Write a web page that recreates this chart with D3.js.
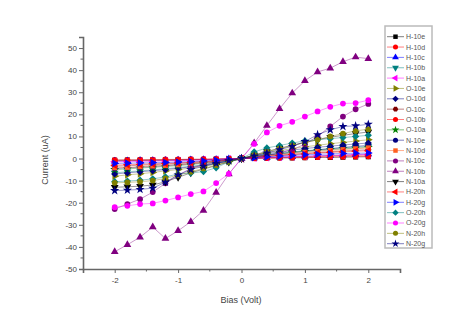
<!DOCTYPE html>
<html>
<head>
<meta charset="utf-8">
<script src="https://cdn.jsdelivr.net/npm/d3@7"></script>
<style>
  body { margin: 0; background: #fff; }
  text { font-family: Arial, "Liberation Sans", sans-serif; }
</style>
</head>
<body>
<svg id="viz"></svg>
<script>
// ----------------------- DATA
const bias = [-2, -1.8, -1.6, -1.4, -1.2, -1, -0.8, -0.6, -0.4, -0.2, 0, 0.2, 0.4, 0.6, 0.8, 1, 1.2, 1.4, 1.6, 1.8, 2];

const seriesNames = ['H-10e', 'H-10d', 'H-10c', 'H-10b', 'H-10a', 'O-10e', 'O-10d', 'O-10c', 'O-10b', 'O-10a',
  'N-10e', 'N-10d', 'N-10c', 'N-10b', 'N-10a', 'H-20h', 'H-20g', 'O-20h', 'O-20g', 'N-20h', 'N-20g'];

const h10e = [-0.8, -0.7, -0.7, -0.6, -0.6, -0.5, -0.4, -0.4, -0.3, -0.1, 0, 0.1, 0.2, 0.3, 0.3, 0.4, 0.5, 0.5, 0.6, 0.7, 0.8];
const h10d = [-0.6, -0.6, -0.5, -0.5, -0.4, -0.4, -0.3, -0.3, -0.2, -0.1, 0, 0.1, 0.2, 0.3, 0.4, 0.5, 0.6, 0.7, 0.8, 0.9, 1.0];
const h10c = [-1.2, -1.1, -1.0, -1.0, -0.9, -0.8, -0.7, -0.5, -0.4, -0.2, 0, 0.2, 0.4, 0.6, 0.8, 1.0, 1.2, 1.4, 1.6, 1.8, 2.0];
const h10b = [-6.5, -6.0, -5.6, -5.1, -4.6, -4.1, -3.5, -2.9, -2.1, -1.1, 0, 0.9, 1.7, 2.4, 3.0, 3.5, 4.0, 4.5, 4.9, 5.2, 5.5];
const h10a = [-1.5, -1.4, -1.3, -1.2, -1.1, -1.0, -0.8, -0.6, -0.4, -0.2, 0, 0.2, 0.4, 0.6, 0.8, 1.0, 1.2, 1.3, 1.5, 1.7, 1.8];
const o10e = [-8.0, -7.4, -6.9, -6.3, -5.6, -5.0, -4.3, -3.5, -2.6, -1.4, 0, 1.4, 2.6, 3.6, 4.5, 5.3, 6.0, 6.7, 7.3, 7.9, 8.5];
const o10d = [-7.0, -6.5, -6.0, -5.5, -5.0, -4.4, -3.8, -3.1, -2.2, -1.2, 0, 1.1, 2.2, 3.0, 3.8, 4.5, 5.1, 5.6, 6.1, 6.6, 7.0];
const o10c = [-3.5, -3.3, -3.0, -2.8, -2.5, -2.2, -1.9, -1.5, -1.1, -0.6, 0, 0.6, 1.1, 1.5, 1.9, 2.3, 2.7, 3.0, 3.4, 3.7, 4.0];
const o10b = [-1.0, -0.9, -0.9, -0.8, -0.7, -0.6, -0.5, -0.4, -0.3, -0.2, 0, 0.2, 0.3, 0.5, 0.6, 0.8, 0.9, 1.1, 1.2, 1.4, 1.5];
const o10a = [-5.0, -4.7, -4.3, -4.0, -3.6, -3.2, -2.7, -2.2, -1.6, -0.9, 0, 0.9, 1.6, 2.2, 2.7, 3.2, 3.6, 4.0, 4.4, 4.7, 5.0];
const n10e = [-4.5, -4.2, -3.9, -3.6, -3.2, -2.8, -2.4, -1.9, -1.4, -0.7, 0, 0.8, 1.5, 2.1, 2.7, 3.3, 3.9, 4.4, 5.0, 5.5, 6.0];
const n10d = [-4.2, -4.0, -3.7, -3.4, -3.1, -2.8, -2.4, -1.9, -1.3, -0.7, 0, 0.7, 1.3, 1.8, 2.3, 2.8, 3.2, 3.6, 4.0, 4.4, 4.8];
const n10c = [-22.9, -20.6, -18.4, -15.2, -11.2, -7.5, -4.5, -2.8, -1.6, -0.6, 0, 0.6, 1.5, 2.5, 4.0, 6.5, 10.0, 14.5, 19.0, 22.3, 24.7];
const n10b = [-42.2, -39, -35.6, -31, -36.2, -32.7, -28.6, -23.5, -15.4, -7, 0, 7, 14.9, 22.5, 29.6, 35.2, 39.2, 40.9, 43.8, 45.9, 45.2];
const n10a = [-13.0, -12.8, -12.5, -12.0, -10.5, -8.5, -6.5, -4.8, -3.2, -1.6, 0, 1.6, 3.2, 4.6, 6.0, 7.3, 8.5, 9.6, 10.5, 11.3, 12.0];
const h20h = [-3.0, -2.8, -2.6, -2.4, -2.2, -2.0, -1.7, -1.4, -1.0, -0.5, 0, 0.5, 1.0, 1.4, 1.8, 2.1, 2.5, 2.8, 3.0, 3.3, 3.5];
const h20g = [-2.2, -2.1, -2.0, -1.9, -1.8, -1.6, -1.4, -1.1, -0.8, -0.4, 0, 0.4, 0.8, 1.1, 1.4, 1.7, 1.9, 2.1, 2.3, 2.4, 2.5];
const o20h = [-10.5, -10.2, -9.8, -9.2, -8.3, -7.0, -6.6, -5.9, -4.2, -1.5, 0, 3.0, 4.8, 5.9, 7.0, 8.0, 8.5, 9.0, 9.5, 10.0, 10.5];
const o20g = [-22, -21.4, -20.6, -20.3, -19, -17.6, -16.1, -14.9, -11.1, -6.9, 0, 6.6, 11.8, 14.8, 16.6, 19, 21.3, 23.4, 24.9, 25.1, 26.4];
const n20h = [-11, -10.8, -10.5, -10.0, -9.0, -7.5, -6.0, -4.5, -3.0, -1.5, 0, 1.5, 3.0, 4.5, 5.8, 7.2, 8.5, 10.0, 11.3, 12.5, 13.3];
const n20g = [-14.5, -14.3, -14.0, -13.4, -10.7, -7.4, -5.0, -3.5, -2.2, -1.0, 0, 1.2, 2.5, 4.0, 5.5, 7.7, 10.8, 13.0, 14.5, 14.8, 15.5];

const seriesValues = [h10e, h10d, h10c, h10b, h10a, o10e, o10d, o10c, o10b, o10a,
  n10e, n10d, n10c, n10b, n10a, h20h, h20g, o20h, o20g, n20h, n20g];

const xTicks = [-2, -1, 0, 1, 2];
const yTicks = [-50, -40, -30, -20, -10, 0, 10, 20, 30, 40, 50];

// ----------------------- STYLES (origin-like palette + symbols)
const colors = ['#000000', '#ff0000', '#0000ff', '#008080', '#ff00ff', '#808000', '#000080', '#800000', '#ff0000', '#008000',
  '#000080', '#ff6020', '#800080', '#800080', '#000000', '#ff0000', '#0000ff', '#008080', '#ff00ff', '#808000', '#000080'];
const shapes = ['square', 'circle', 'up', 'down', 'left', 'right', 'diamond', 'hexagon', 'circle', 'star',
  'circle', 'square', 'circle', 'up', 'down', 'left', 'right', 'diamond', 'circle', 'circle', 'star'];

// hexagon symbol type for d3.symbol
const symbolHexagon = {
  draw(ctx, size) {
    const r = Math.sqrt(size / (1.5 * Math.sqrt(3)));
    for (let i = 0; i < 6; i++) {
      const a = Math.PI / 3 * i;
      const px = r * Math.cos(a), py = r * Math.sin(a);
      if (i === 0) ctx.moveTo(px, py); else ctx.lineTo(px, py);
    }
    ctx.closePath();
  }
};

function symbolPath(shape, size) {
  const map = {
    square: d3.symbolSquare, circle: d3.symbolCircle, up: d3.symbolTriangle, down: d3.symbolTriangle,
    left: d3.symbolTriangle, right: d3.symbolTriangle, diamond: d3.symbolSquare, hexagon: symbolHexagon, star: d3.symbolStar
  };
  return d3.symbol().type(map[shape]).size(size)();
}
function symbolRotate(shape) {
  return { down: 180, left: -90, right: 90, diamond: 45 }[shape] || 0;
}

// ----------------------- SETTINGS
const W = 464, H = 324;
const margin = { top: 37, right: 64, bottom: 55, left: 83 },
  width = W - margin.left - margin.right,
  height = H - margin.top - margin.bottom;

const svg = d3.select('#viz').attr('width', W).attr('height', H);
const chart = svg.append('g').attr('transform', `translate(${margin.left}, ${margin.top})`);

const x = d3.scaleLinear().domain([-2.5, 2.5]).range([0, width]);
const y = d3.scaleLinear().domain([-50, 55]).range([height, 0]);

const axisColor = '#666';
const plainNum = d => String(d); // hyphen minus, like the original

// ----------------------- AXES
const xAxis = chart.append('g')
  .attr('transform', `translate(0, ${height})`)
  .call(d3.axisBottom(x).tickValues(xTicks).tickSize(4).tickFormat(plainNum));
xAxis.append('g').selectAll('line')
  .data([-1.5, -0.5, 0.5, 1.5])
  .enter().append('line')
  .attr('x1', d => x(d)).attr('x2', d => x(d)).attr('y1', 0).attr('y2', 2.5);

const yAxis = chart.append('g')
  .call(d3.axisLeft(y).tickValues(yTicks).tickSize(4).tickFormat(plainNum));
yAxis.append('g').selectAll('line')
  .data([-45, -35, -25, -15, -5, 5, 15, 25, 35, 45])
  .enter().append('line')
  .attr('x1', 0).attr('x2', -2.5).attr('y1', d => y(d)).attr('y2', d => y(d));

[xAxis, yAxis].forEach(a => {
  a.select('.domain').attr('stroke', axisColor).attr('stroke-width', 1.6);
  a.selectAll('line').attr('stroke', axisColor).attr('stroke-width', 1);
  a.selectAll('text').attr('fill', '#444').style('font-size', '8px');
});
xAxis.selectAll('.tick text').attr('dy', '0.9em');
yAxis.selectAll('.tick text').attr('x', -6);

// axis titles
svg.append('text')
  .attr('transform', 'translate(48, 160) rotate(-90)')
  .attr('text-anchor', 'middle')
  .attr('fill', '#444')
  .style('font-size', '9px')
  .text('Current (uA)');
svg.append('text')
  .attr('x', 241).attr('y', 303)
  .attr('text-anchor', 'middle')
  .attr('fill', '#444')
  .style('font-size', '9px')
  .text('Bias (Volt)');

// ----------------------- SERIES
const line = d3.line().x((d, i) => x(bias[i])).y(d => y(d));

seriesValues.forEach((vals, k) => {
  const g = chart.append('g');
  g.append('path')
    .datum(vals)
    .attr('d', line)
    .attr('fill', 'none')
    .attr('stroke', colors[k])
    .attr('stroke-opacity', 0.4)
    .attr('stroke-width', 1);
  g.selectAll('.pt')
    .data(vals)
    .enter().append('path')
    .attr('class', 'pt')
    .attr('d', symbolPath(shapes[k], shapes[k] === 'star' ? 26 : 26))
    .attr('transform', (d, i) => `translate(${x(bias[i])}, ${y(d)}) rotate(${symbolRotate(shapes[k])})`)
    .attr('fill', colors[k]);
});

// ----------------------- LEGEND
const lg = svg.append('g');
lg.append('rect')
  .attr('x', 385).attr('y', 26).attr('width', 47).attr('height', 222)
  .attr('fill', 'none').attr('stroke', '#bbb').attr('stroke-width', 1.5);

const item = lg.selectAll('.item')
  .data(seriesNames)
  .enter().append('g')
  .attr('class', 'item')
  .attr('transform', (d, i) => `translate(0, ${36.7 + i * 10.35})`);
item.append('line')
  .attr('x1', 387).attr('x2', 404).attr('y1', 0).attr('y2', 0)
  .attr('stroke', (d, i) => colors[i]).attr('stroke-opacity', 0.5);
item.append('path')
  .attr('d', (d, i) => symbolPath(shapes[i], 20))
  .attr('transform', (d, i) => `translate(395.5, 0) rotate(${symbolRotate(shapes[i])})`)
  .attr('fill', (d, i) => colors[i]);
item.append('text')
  .attr('x', 406).attr('y', 0).attr('dy', '0.35em')
  .attr('fill', '#555')
  .style('font-size', '7px')
  .text(d => d);
</script>
</body>
</html>
